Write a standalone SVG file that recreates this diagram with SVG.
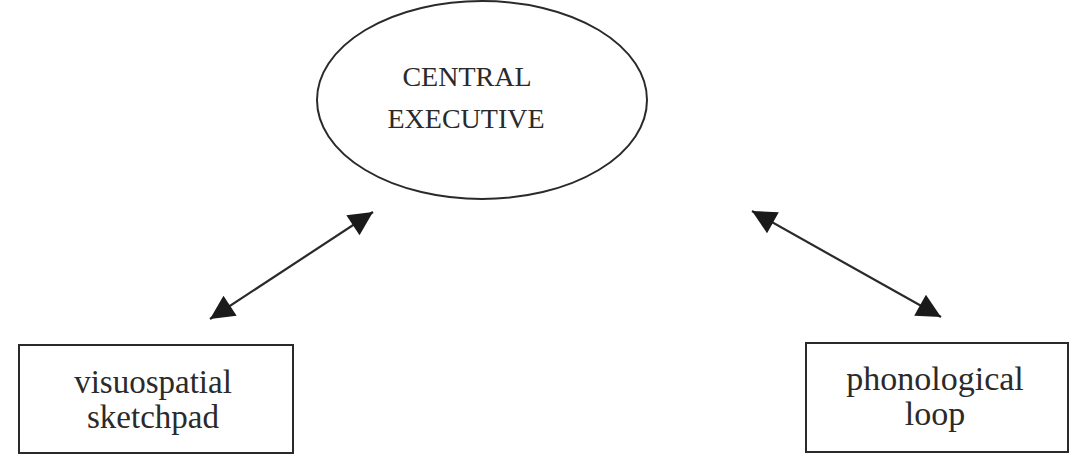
<svg xmlns="http://www.w3.org/2000/svg" width="1084" height="470" viewBox="0 0 1084 470">
<style>
.shape{fill:#fff;stroke:#2a2a2a;stroke-width:2}
.t{font-family:"Liberation Serif",serif;fill:#2a2a2a;text-anchor:middle}
.conn{stroke:#2a2a2a;stroke-width:2.2;fill:none;marker-start:url(#ah);marker-end:url(#ah)}
</style>
<defs>
<marker id="ah" viewBox="0 0 10 10" refX="10" refY="5" markerUnits="userSpaceOnUse" markerWidth="28" markerHeight="24" orient="auto-start-reverse">
<path d="M0,0 L10,5 L0,10 z" fill="#1a1a1a"/>
</marker>
</defs>
<rect width="1084" height="470" fill="#fff"/>
<g id="central-executive">
<ellipse class="shape" cx="482" cy="100" rx="165" ry="99"/>
<text class="t" x="467" y="86" font-size="28">CENTRAL</text>
<text class="t" x="466" y="128" font-size="28">EXECUTIVE</text>
</g>
<g id="visuospatial-sketchpad">
<rect class="shape" x="19" y="345" width="274" height="108"/>
<text class="t" x="153" y="393" font-size="33">visuospatial</text>
<text class="t" x="153" y="428" font-size="33">sketchpad</text>
</g>
<g id="phonological-loop">
<rect class="shape" x="806" y="343" width="262" height="109"/>
<text class="t" x="935" y="390" font-size="34">phonological</text>
<text class="t" x="935" y="425" font-size="34">loop</text>
</g>
<g id="connectors">
<line class="conn" x1="210" y1="319" x2="373" y2="212"/>
<line class="conn" x1="752" y1="211" x2="941" y2="317"/>
</g>
</svg>
